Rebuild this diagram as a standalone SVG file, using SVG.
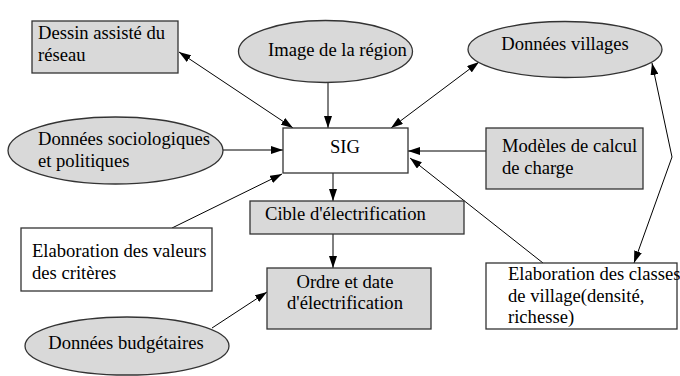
<svg xmlns="http://www.w3.org/2000/svg" width="680" height="376" viewBox="0 0 680 376" font-family="'Liberation Serif', 'Times New Roman', serif" font-size="18.6">
<defs>
<marker id="ah" viewBox="0 0 12 8" refX="12" refY="4" markerWidth="12" markerHeight="8" markerUnits="userSpaceOnUse" orient="auto-start-reverse">
<path d="M0,0 L12,4 L0,8 z" fill="#000"/>
</marker>
<style>
.g{fill:#d9d9d9;stroke:#333;stroke-width:1.3}
.w{fill:#fff;stroke:#333;stroke-width:1.3}
text{font-family:'Liberation Serif','Times New Roman',serif;font-size:18.6px;fill:#000}
.c{text-anchor:middle}
#connectors line,#connectors polyline{stroke:#000;stroke-width:1;fill:none}
</style>
</defs>
<rect width="680" height="376" fill="#fff"/>
<g id="connectors">
<line x1="179" y1="52" x2="293" y2="128" marker-start="url(#ah)" marker-end="url(#ah)"/>
<line x1="328" y1="83" x2="328" y2="128" marker-end="url(#ah)"/>
<line x1="223" y1="150" x2="283" y2="150" marker-end="url(#ah)"/>
<line x1="172" y1="228" x2="282" y2="174" marker-end="url(#ah)"/>
<line x1="391" y1="128" x2="479" y2="62" marker-start="url(#ah)" marker-end="url(#ah)"/>
<line x1="486" y1="151" x2="408" y2="151" marker-end="url(#ah)"/>
<line x1="543" y1="263" x2="410" y2="158" marker-end="url(#ah)"/>
<polyline points="652,63 672,157 634,263" marker-start="url(#ah)" marker-end="url(#ah)"/>
<line x1="333" y1="173" x2="333" y2="201" marker-end="url(#ah)"/>
<line x1="333" y1="234" x2="333" y2="268" marker-end="url(#ah)"/>
<line x1="212" y1="328" x2="267" y2="292" marker-end="url(#ah)"/>
</g>
<g id="dessin">
<rect class="g" x="32" y="21" width="146" height="52"/>
<text x="38" y="39">Dessin assisté du</text>
<text x="38" y="61">réseau</text>
</g>
<g id="image">
<ellipse class="g" cx="325.5" cy="51.5" rx="87" ry="31"/>
<text x="268" y="56">Image de la région</text>
</g>
<g id="villages">
<ellipse class="g" cx="565" cy="49.5" rx="97" ry="28"/>
<text class="c" x="565" y="50">Données villages</text>
</g>
<g id="socio">
<ellipse class="g" cx="115.5" cy="150.5" rx="107.5" ry="33.5"/>
<text x="38" y="145">Données sociologiques</text>
<text x="38" y="167">et politiques</text>
</g>
<g id="sig">
<rect class="w" x="283" y="128" width="125" height="45"/>
<text x="330" y="153">SIG</text>
</g>
<g id="modeles">
<rect class="g" x="486" y="128" width="157" height="61"/>
<text x="502" y="152">Modèles de calcul</text>
<text x="502" y="174">de charge</text>
</g>
<g id="cible">
<rect class="g" x="250" y="201" width="214" height="33"/>
<text x="265" y="220">Cible d'électrification</text>
</g>
<g id="valeurs">
<rect class="w" x="21" y="228" width="191" height="63"/>
<text x="32" y="257">Elaboration des valeurs</text>
<text x="32" y="279">des critères</text>
</g>
<g id="ordre">
<rect class="g" x="267" y="268" width="164" height="61"/>
<text class="c" x="345" y="288">Ordre et date</text>
<text class="c" x="345" y="309">d'électrification</text>
</g>
<g id="classes">
<rect class="w" x="486" y="263" width="191" height="66"/>
<text x="508" y="280">Elaboration des classes</text>
<text x="508" y="302">de village(densité,</text>
<text x="508" y="323">richesse)</text>
</g>
<g id="budget">
<ellipse class="g" cx="127" cy="346" rx="102" ry="29"/>
<text class="c" x="126" y="349">Données budgétaires</text>
</g>
</svg>
